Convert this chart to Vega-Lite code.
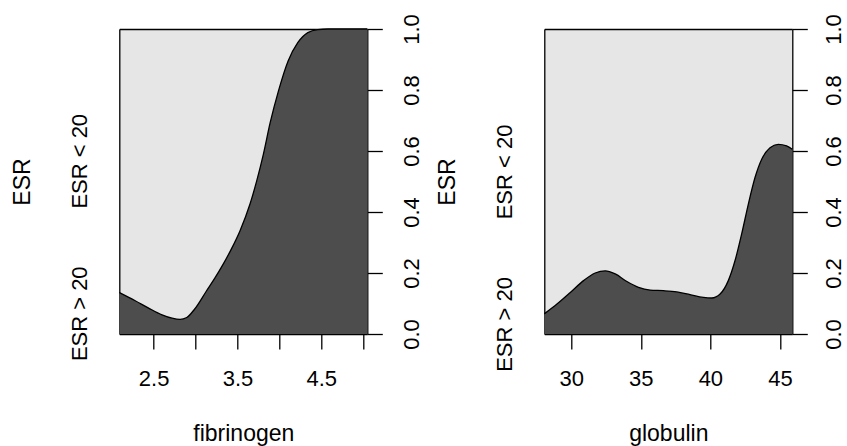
{
  "$schema": "https://vega.github.io/schema/vega-lite/v6.json",
  "background": "white",
  "padding": {"left": 11.3, "top": 13, "right": 6, "bottom": 0},
  "bounds": "flush",
  "spacing": 177,
  "config": {
    "view": {"fill": "#E6E6E6", "stroke": null},
    "axis": {
      "labelFont": "Liberation Sans", "titleFont": "Liberation Sans",
      "labelFontSize": 22, "titleFontSize": 23, "titleFontWeight": "normal",
      "labelColor": "black", "titleColor": "black",
      "domainColor": "black", "tickColor": "black",
      "domainWidth": 1.3, "tickWidth": 1.3,
      "grid": false, "labelFlush": false, "labelOverlap": false, "zindex": 1
    }
  },
  "datasets": {
    "fib": [
      {"x": 2.09, "p": 0.136}, {"x": 2.28, "p": 0.109}, {"x": 2.44, "p": 0.085}, {"x": 2.60, "p": 0.063},
      {"x": 2.72, "p": 0.052}, {"x": 2.815, "p": 0.048}, {"x": 2.895, "p": 0.054}, {"x": 2.99, "p": 0.082},
      {"x": 3.13, "p": 0.141}, {"x": 3.23, "p": 0.183}, {"x": 3.33, "p": 0.229}, {"x": 3.43, "p": 0.280},
      {"x": 3.53, "p": 0.338}, {"x": 3.65, "p": 0.426}, {"x": 3.73, "p": 0.502}, {"x": 3.81, "p": 0.590},
      {"x": 3.89, "p": 0.692}, {"x": 3.99, "p": 0.797},
      {"x": 4.105, "p": 0.895}, {"x": 4.22, "p": 0.955}, {"x": 4.34, "p": 0.988}, {"x": 4.46, "p": 0.998},
      {"x": 4.58, "p": 1.0}, {"x": 5.05, "p": 1.0}
    ],
    "glob": [
      {"x": 28.06, "p": 0.066}, {"x": 28.97, "p": 0.098}, {"x": 29.93, "p": 0.136}, {"x": 30.88, "p": 0.175},
      {"x": 31.72, "p": 0.200}, {"x": 32.44, "p": 0.207}, {"x": 33.16, "p": 0.197}, {"x": 34.0, "p": 0.172},
      {"x": 34.83, "p": 0.153}, {"x": 35.67, "p": 0.144}, {"x": 36.63, "p": 0.142}, {"x": 37.59, "p": 0.138},
      {"x": 38.54, "p": 0.129}, {"x": 39.50, "p": 0.120}, {"x": 40.10, "p": 0.118}, {"x": 40.70, "p": 0.131},
      {"x": 41.29, "p": 0.175}, {"x": 41.77, "p": 0.240}, {"x": 42.25, "p": 0.328}, {"x": 42.73, "p": 0.426},
      {"x": 43.21, "p": 0.513}, {"x": 43.69, "p": 0.573}, {"x": 44.29, "p": 0.611}, {"x": 44.88, "p": 0.622},
      {"x": 45.48, "p": 0.617}, {"x": 45.89, "p": 0.606}
    ]
  },
  "hconcat": [
    {
      "width": 248, "height": 305,
      "data": {"name": "fib"},
      "resolve": {"axis": {"x": "independent", "y": "independent"}},
      "layer": [
        {
          "mark": {"type": "area", "color": "#4D4D4D", "interpolate": "monotone"},
          "encoding": {
            "x": {"field": "x", "type": "quantitative", "scale": {"domain": [2.09, 5.05], "nice": false, "zero": false},
                  "axis": {"orient": "bottom", "values": [2.5, 3, 3.5, 4, 4.5, 5],
                           "labelExpr": "indexof([2.5, 3.5, 4.5], datum.value) >= 0 ? format(datum.value, '.1f') : ''",
                           "tickSize": 15, "labelPadding": 36.7, "labelBaseline": "alphabetic",
                           "title": "fibrinogen", "titleY": 106.7, "titleBaseline": "alphabetic"}},
            "y": {"field": "p", "type": "quantitative", "scale": {"domain": [0, 1], "nice": false},
                  "axis": {"orient": "left", "values": [0.068, 0.568],
                           "labelExpr": "datum.value < 0.3 ? 'ESR > 20' : 'ESR < 20'",
                           "ticks": false, "tickSize": 0, "labelAngle": -90, "labelAlign": "center",
                           "labelBaseline": "alphabetic", "labelPadding": 32.6,
                           "title": "ESR", "titleAngle": -90, "titleX": -89.3, "titleBaseline": "alphabetic"}}
          }
        },
        {
          "mark": {"type": "line", "color": "black", "strokeWidth": 1.3, "interpolate": "monotone"},
          "encoding": {
            "x": {"field": "x", "type": "quantitative", "scale": {"domain": [2.09, 5.05], "nice": false, "zero": false},
                  "axis": {"orient": "top", "labels": false, "ticks": false, "title": null}},
            "y": {"field": "p", "type": "quantitative", "scale": {"domain": [0, 1], "nice": false},
                  "axis": {"orient": "right", "values": [0, 0.2, 0.4, 0.6, 0.8, 1], "format": ".1f",
                           "tickSize": 15, "labelAngle": -90, "labelAlign": "center",
                           "labelBaseline": "alphabetic", "labelPadding": 36, "title": null}}
          }
        }
      ]
    },
    {
      "width": 248, "height": 305,
      "data": {"name": "glob"},
      "resolve": {"axis": {"x": "independent", "y": "independent"}},
      "layer": [
        {
          "mark": {"type": "area", "color": "#4D4D4D", "interpolate": "monotone"},
          "encoding": {
            "x": {"field": "x", "type": "quantitative", "scale": {"domain": [28.06, 45.89], "nice": false, "zero": false},
                  "axis": {"orient": "bottom", "values": [30, 35, 40, 45], "format": "d",
                           "tickSize": 15, "labelPadding": 36.7, "labelBaseline": "alphabetic",
                           "title": "globulin", "titleY": 106.7, "titleBaseline": "alphabetic"}},
            "y": {"field": "p", "type": "quantitative", "scale": {"domain": [0, 1], "nice": false},
                  "axis": {"orient": "left", "values": [0.033, 0.533],
                           "labelExpr": "datum.value < 0.3 ? 'ESR > 20' : 'ESR < 20'",
                           "ticks": false, "tickSize": 0, "labelAngle": -90, "labelAlign": "center",
                           "labelBaseline": "alphabetic", "labelPadding": 32.6,
                           "title": "ESR", "titleAngle": -90, "titleX": -89.3, "titleBaseline": "alphabetic"}}
          }
        },
        {
          "mark": {"type": "line", "color": "black", "strokeWidth": 1.3, "interpolate": "monotone"},
          "encoding": {
            "x": {"field": "x", "type": "quantitative", "scale": {"domain": [28.06, 45.89], "nice": false, "zero": false},
                  "axis": {"orient": "top", "labels": false, "ticks": false, "title": null}},
            "y": {"field": "p", "type": "quantitative", "scale": {"domain": [0, 1], "nice": false},
                  "axis": {"orient": "right", "values": [0, 0.2, 0.4, 0.6, 0.8, 1], "format": ".1f",
                           "tickSize": 15, "labelAngle": -90, "labelAlign": "center",
                           "labelBaseline": "alphabetic", "labelPadding": 33, "title": null}}
          }
        }
      ]
    }
  ]
}
